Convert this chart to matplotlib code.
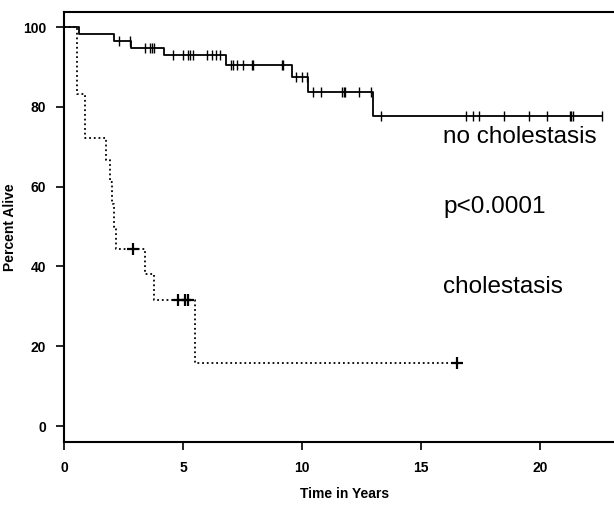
import numpy as np
import matplotlib
matplotlib.use("Agg")
import matplotlib.pyplot as plt

plt.rcParams['font.family'] = ['Liberation Sans', 'DejaVu Sans']

# ---- data ----
nochol_t = [0, 0.63, 2.1, 2.8, 4.2, 6.8, 9.6, 10.27, 12.97, 22.6]
nochol_s = [100, 98.2, 96.5, 94.9, 93.1, 90.6, 87.5, 83.8, 77.8, 77.8]
nochol_cens = [2.3, 2.77, 3.4, 3.6, 3.7, 3.8, 4.6, 5.0, 5.2, 5.3, 5.4, 6.0, 6.2,
               6.4, 6.55, 7.0, 7.1, 7.25, 7.5, 7.9, 7.95, 9.15, 9.2, 9.75, 10.0,
               10.2, 10.45, 10.8, 11.7, 11.75, 11.8, 12.4, 12.9, 13.3, 16.9,
               17.2, 17.45, 18.5, 19.55, 20.3, 21.25, 21.3, 21.4, 22.6]

chol_t = [0, 0.55, 0.88, 1.76, 1.92, 2.0, 2.08, 2.2, 3.4, 3.8, 5.5, 16.5]
chol_s = [100, 83.3, 72.2, 66.7, 61.1, 55.6, 50.0, 44.4, 38.1, 31.7, 15.9, 15.9]
chol_cens = [2.9, 4.8, 5.1, 5.2, 16.5]

x_ticks = [0, 5, 10, 15, 20]
y_ticks = [0, 20, 40, 60, 80, 100]
labels = ["no cholestasis", "p<0.0001", "cholestasis"]


def level_at(times, surv, t):
    idx = np.searchsorted(np.asarray(times), t, side='right') - 1
    return np.asarray(surv)[idx]


fig = plt.figure(figsize=(6.14, 5.07), dpi=100)
ax = fig.add_axes([64 / 614, 65 / 507, (614 - 64) / 614, (442 - 12) / 507])

ax.step(nochol_t, nochol_s, where='post', color='black', lw=1.3)
ax.plot(nochol_cens, [level_at(nochol_t, nochol_s, t) for t in nochol_cens],
        ls='none', marker='|', ms=7, mew=1.0, color='black')

ax.step(chol_t, chol_s, where='post', color='black', lw=1.3, ls=(0, (1, 1.6)))
ax.plot(chol_cens, [level_at(chol_t, chol_s, t) for t in chol_cens],
        ls='none', marker='+', ms=8, mew=1.6, color='black')

ax.set_xlim(0, (614 - 64) / 23.8)
ax.set_ylim(-4, 103.8)
ax.set_xticks(x_ticks)
ax.set_yticks(y_ticks)
ax.tick_params(direction='out', length=6, width=1.2, labelsize=10)
ax.tick_params(axis='y', pad=7)
ax.tick_params(axis='x', pad=8)
for lab in ax.get_xticklabels() + ax.get_yticklabels():
    lab.set_fontweight('bold')
for sp in ['left', 'bottom', 'top']:
    ax.spines[sp].set_linewidth(1.5)
ax.spines['right'].set_visible(False)

ax.set_xlabel("Time in Years", fontsize=10, fontweight='bold', labelpad=10)
ax.xaxis.set_label_coords((345 - 64) / (614 - 64), -0.105)
ax.set_ylabel("Percent Alive", fontsize=10, fontweight='bold', labelpad=4)

ax.text(443 / 614, 1 - 137 / 507, labels[0], transform=fig.transFigure,
        fontsize=17.5, va='center', ha='left')
ax.text(443 / 614, 1 - 207 / 507, labels[1], transform=fig.transFigure,
        fontsize=17.5, va='center', ha='left')
ax.text(443 / 614, 1 - 287 / 507, labels[2], transform=fig.transFigure,
        fontsize=17.5, va='center', ha='left')

fig.savefig("out.png", dpi=100)
